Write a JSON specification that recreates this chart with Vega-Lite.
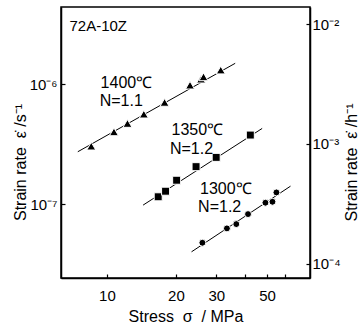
{
  "$schema": "https://vega.github.io/schema/vega-lite/v6.json",
  "width": 249,
  "height": 271,
  "autosize": "none",
  "padding": {"left": 61, "top": 7, "right": 48, "bottom": 47},
  "background": "white",
  "config": {
    "view": {"stroke": "black", "strokeWidth": 1.5},
    "font": "Liberation Sans",
    "axis": {
      "domainColor": "black", "domainWidth": 1.5, "tickColor": "black", "tickWidth": 1.2,
      "labelColor": "black", "titleColor": "black", "labelFont": "Liberation Sans",
      "titleFont": "Liberation Sans", "titleFontWeight": "normal", "grid": false
    }
  },
  "datasets": {
    "points": [
      {"series": "1400", "stress": 8.54, "rate": 3.04e-7},
      {"series": "1400", "stress": 10.73, "rate": 4.0e-7},
      {"series": "1400", "stress": 12.29, "rate": 4.7e-7},
      {"series": "1400", "stress": 14.49, "rate": 5.62e-7},
      {"series": "1400", "stress": 17.85, "rate": 7.04e-7},
      {"series": "1400", "stress": 23.05, "rate": 9.8e-7},
      {"series": "1400", "stress": 25.76, "rate": 1.1e-6},
      {"series": "1400", "stress": 26.4, "rate": 1.15e-6},
      {"series": "1400", "stress": 31.4, "rate": 1.31e-6},
      {"series": "1350", "stress": 16.74, "rate": 1.15e-7},
      {"series": "1350", "stress": 18.03, "rate": 1.28e-7},
      {"series": "1350", "stress": 20.15, "rate": 1.58e-7},
      {"series": "1350", "stress": 24.49, "rate": 2.05e-7},
      {"series": "1350", "stress": 29.98, "rate": 2.45e-7},
      {"series": "1350", "stress": 42.26, "rate": 3.76e-7},
      {"series": "1300", "stress": 26.1, "rate": 4.76e-8},
      {"series": "1300", "stress": 33.4, "rate": 6.27e-8},
      {"series": "1300", "stress": 36.7, "rate": 6.81e-8},
      {"series": "1300", "stress": 41.3, "rate": 8.25e-8},
      {"series": "1300", "stress": 49.2, "rate": 1.026e-7},
      {"series": "1300", "stress": 52.8, "rate": 1.045e-7},
      {"series": "1300", "stress": 54.95, "rate": 1.25e-7}
    ],
    "lines": [
      {"series": "1400", "stress": 7.46, "rate": 2.73e-7},
      {"series": "1400", "stress": 36.3, "rate": 1.49e-6},
      {"series": "1350", "stress": 14.38, "rate": 9.8e-8},
      {"series": "1350", "stress": 47.6, "rate": 4.27e-7},
      {"series": "1300", "stress": 23.4, "rate": 4.0e-8},
      {"series": "1300", "stress": 63.3, "rate": 1.41e-7}
    ],
    "labels": [
      {"label": "72A-10Z", "stress": 6.86, "rate": 3.04e-6, "size": 15},
      {"label": "1400℃", "stress": 9.38, "rate": 1.03e-6, "size": 16},
      {"label": "N=1.1", "stress": 9.29, "rate": 7.2e-7, "size": 16},
      {"label": "1350℃", "stress": 19.13, "rate": 4.15e-7, "size": 16},
      {"label": "N=1.2", "stress": 18.84, "rate": 2.88e-7, "size": 16},
      {"label": "1300℃", "stress": 25.5, "rate": 1.34e-7, "size": 16},
      {"label": "N=1.2", "stress": 25.0, "rate": 9.5e-8, "size": 16}
    ],
    "rightaxis": [
      {"rate_h": 1e-4}, {"rate_h": 1e-3}, {"rate_h": 1e-2}
    ]
  },
  "layer": [
    {
      "encoding": {
        "x": {
          "field": "stress", "type": "quantitative",
          "scale": {"type": "log", "domain": [6.3, 77], "nice": false},
          "axis": {
            "values": [10, 20, 30, 40, 50, 60],
            "labelExpr": "datum.value == 40 || datum.value == 60 ? '' : datum.label",
            "tickSize": -4, "labelPadding": 14, "labelFontSize": 15,
            "title": "Stress\u00a0\u00a0σ\u00a0\u00a0/\u00a0MPa", "titleFontSize": 16, "titlePadding": 5
          }
        },
        "y": {
          "field": "rate", "type": "quantitative",
          "scale": {"type": "log", "domain": [2.42e-8, 4.39e-6], "nice": false},
          "axis": {
            "values": [1e-7, 1e-6],
            "labelExpr": "datum.value > 5e-7 ? '10⁻⁶' : '10⁻⁷'",
            "tickSize": -4, "labelPadding": 8, "labelFontSize": 15,
            "title": "Strain rate\u00a0\u00a0ε̇\u00a0/s⁻¹", "titleFontSize": 16,
            "titleX": -41, "titleY": 155, "titleBaseline": "middle", "titleAngle": -90
          }
        }
      },
      "layer": [
        {
          "data": {"name": "lines"},
          "mark": {"type": "line", "color": "black", "strokeWidth": 1},
          "encoding": {"detail": {"field": "series", "type": "nominal"}}
        },
        {
          "data": {"name": "points"},
          "mark": {"type": "point", "filled": true, "fill": "black", "stroke": "white", "strokeWidth": 1, "opacity": 1},
          "encoding": {
            "shape": {
              "field": "series", "type": "nominal",
              "scale": {"domain": ["1400", "1350", "1300"], "range": ["triangle-up", "square", "circle"]},
              "legend": null
            },
            "size": {
              "field": "series", "type": "nominal",
              "scale": {"domain": ["1400", "1350", "1300"], "range": [80, 48, 45]},
              "legend": null
            }
          }
        },
        {
          "data": {"name": "labels"},
          "mark": {"type": "text", "align": "left", "baseline": "middle", "color": "black", "font": "Liberation Sans"},
          "encoding": {
            "text": {"field": "label", "type": "nominal"},
            "size": {"field": "size", "type": "quantitative", "scale": null}
          }
        }
      ]
    },
    {
      "data": {"name": "rightaxis"},
      "mark": {"type": "point", "opacity": 0},
      "encoding": {
        "y": {
          "field": "rate_h", "type": "quantitative",
          "scale": {"type": "log", "domain": [7.64e-5, 1.386e-2], "nice": false},
          "axis": {
            "orient": "right",
            "values": [1e-4, 1e-3, 1e-2],
            "labelExpr": "datum.value > 5e-3 ? '10⁻²' : datum.value > 5e-4 ? '10⁻³' : '10⁻⁴'",
            "tickSize": -4, "labelPadding": 6, "labelFontSize": 15,
            "title": "Strain rate\u00a0\u00a0ε̇\u00a0/h⁻¹", "titleFontSize": 16,
            "titleX": 41, "titleY": 155, "titleBaseline": "middle", "titleAngle": -90
          }
        }
      }
    }
  ],
  "resolve": {"scale": {"y": "independent"}}
}
